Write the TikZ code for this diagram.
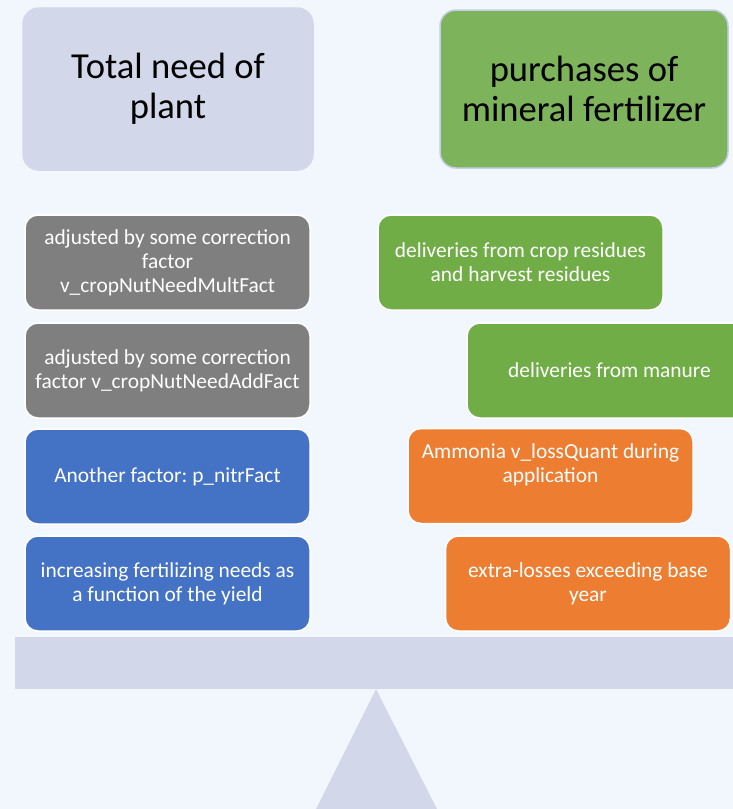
\documentclass[tikz,border=0pt]{standalone}
\usepackage{fontspec}
\setmainfont{Carlito}
\frenchspacing
\definecolor{bgc}{HTML}{F1F7FD}
\definecolor{lav}{HTML}{D2D7EA}
\definecolor{pgreen}{HTML}{7DB35A}
\definecolor{pborder}{HTML}{C5CEE6}
\definecolor{ggray}{HTML}{7F7F7F}
\definecolor{gblue}{HTML}{4472C4}
\definecolor{ggreen}{HTML}{70AD47}
\definecolor{gorange}{HTML}{ED7D31}
\tikzset{
  titlebox/.style={rectangle, rounded corners=16pt, line width=1.5pt, align=center,
    text=black, font=\fontsize{36.6}{40}\selectfont, inner sep=0pt},
  smallbox/.style={rectangle, rounded corners=13pt, draw=white, line width=1.5pt,
    minimum width=285pt, minimum height=95pt, align=center, text=white,
    font=\fontsize{21.4}{23.8}\selectfont, inner sep=0pt},
  smalltext/.style={align=center, text=white, font=\fontsize{21.4}{23.8}\selectfont, inner sep=0pt}
}
\begin{document}
\begin{tikzpicture}[x=1pt,y=-1pt]
\useasboundingbox (0,0) rectangle (733,809);
\clip (0,0) rectangle (733,809);
\fill[bgc] (0,0) rectangle (733,809);
% seesaw
\fill[lav] (15,637) rectangle (740,689);
\fill[lav] (376,689) -- (440,815) -- (313,815) -- cycle;
% titles
\node[titlebox, fill=lav, draw=lav, minimum width=290pt, minimum height=162pt] (total) at (168,89) {Total need of\\plant};
\node[titlebox, fill=pgreen, draw=pborder, minimum width=288pt, minimum height=158pt] (purch) at (584,89) {purchases of\\mineral fertilizer};
% left column
\node[smallbox, fill=ggray] (g1) at (167.5,262.5) {adjusted by some correction\\factor\\v\_cropNutNeedMultFact};
\node[smallbox, fill=ggray] (g2) at (167.5,370.5) {adjusted by some correction\\factor v\_cropNutNeedAddFact};
\node[smallbox, fill=gblue] (b1) at (167.5,476.5) {Another factor: p\_nitrFact};
\node[smallbox, fill=gblue] (b2) at (167.5,583.5) {increasing fertilizing needs as\\a function of the yield};
% right column
\node[smallbox, fill=ggreen] (r1) at (520.5,262.5) {deliveries from crop residues\\and harvest residues};
\node[smallbox, fill=ggreen] (r2) at (609.5,370.5) {deliveries from manure};
\node[smallbox, fill=gorange] (o1) at (550.5,476) {};
\node[smalltext] (o1t) at ([yshift=11pt]o1.center) {Ammonia v\_lossQuant during\\application};
\node[smallbox, fill=gorange] (o2) at (588,583.5) {extra-losses exceeding base\\year};
\end{tikzpicture}
\end{document}
